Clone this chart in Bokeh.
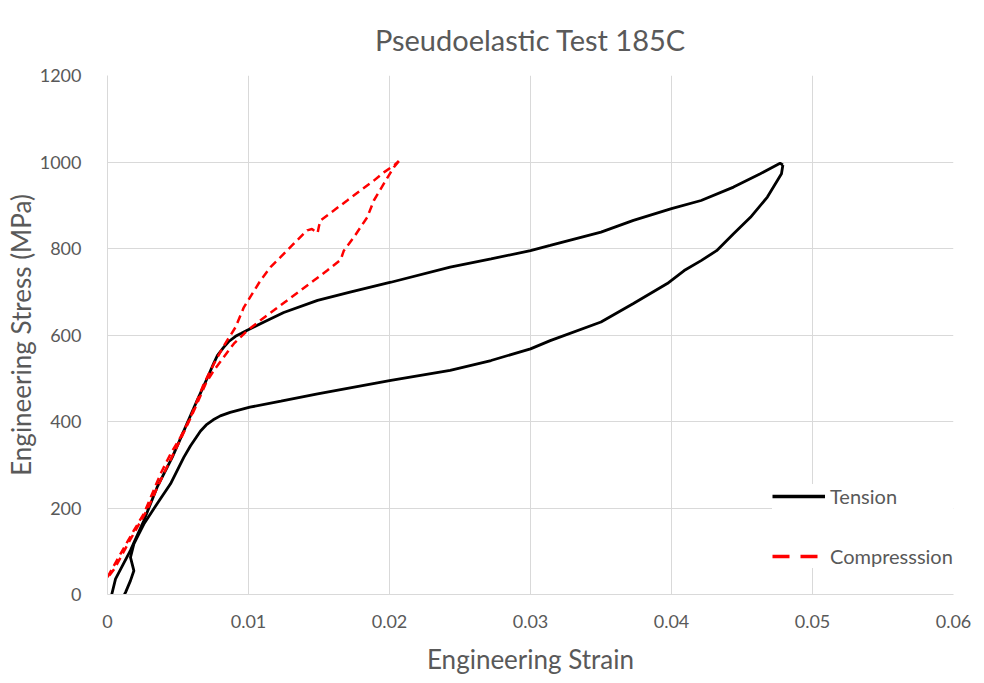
from bokeh.plotting import figure
from bokeh.models import Range1d, Legend, LegendItem, Title, FixedTicker
from bokeh.embed import file_html
from bokeh.resources import INLINE

# Tension loop (strain, MPa)
tension_load_strain = [0.0003, 0.00057, 0.00163, 0.00258, 0.00352, 0.00459, 0.00553, 0.00636, 0.00707,
                       0.00754, 0.0078, 0.00825, 0.0086, 0.00908, 0.0095, 0.00991, 0.0111, 0.0125, 0.0149,
                       0.0172, 0.0201, 0.0243, 0.0272, 0.030, 0.0314, 0.035, 0.0373, 0.040, 0.0421, 0.0444,
                       0.0463, 0.0477, 0.0479]
tension_load_stress = [0, 36, 102, 171, 248, 317, 387, 449, 500,
                       535, 553, 572, 585, 597, 604, 611, 630, 652, 680,
                       699, 722, 757, 776, 795, 807, 838, 865, 892, 911, 942,
                       973, 997, 993]
tension_unload_strain = [0.0479, 0.0478, 0.0468, 0.0456, 0.0444, 0.0432, 0.0421, 0.0409, 0.0397, 0.0373,
                         0.035, 0.0314, 0.030, 0.0272, 0.0243, 0.0201, 0.0149, 0.0123, 0.0101, 0.0087,
                         0.0080, 0.0075, 0.0070, 0.0066, 0.00589, 0.00541, 0.00447, 0.00352, 0.00258,
                         0.00187, 0.00163, 0.00187, 0.00163, 0.00128, 0.0012]
tension_unload_stress = [993, 973, 919, 872, 834, 795, 772, 749, 719, 673,
                         630, 587, 568, 541, 518, 495, 464, 447, 433, 421,
                         413, 404, 392, 378, 344, 317, 256, 210, 163,
                         117, 86, 55, 32, 5, 0]

# Compression loop (strain, MPa)
comp_load_strain = [0.0, 0.00092, 0.00187, 0.00258, 0.00376, 0.00447, 0.00518, 0.00589, 0.00683, 0.00754,
                    0.00825, 0.00908, 0.00967, 0.01026, 0.01085, 0.01156, 0.01227, 0.01321, 0.01416,
                    0.0145, 0.0149, 0.0150, 0.01511, 0.01605, 0.017, 0.01794, 0.01889, 0.0196, 0.02031, 0.02066]
comp_load_stress = [40, 94, 148, 187, 279, 325, 364, 410, 487, 533,
                    575, 618, 664, 695, 726, 757, 780, 811, 842,
                    845, 836, 852, 865, 888, 911, 934, 957, 976, 992, 1002]
comp_unload_strain = [0.02066, 0.02031, 0.0196, 0.01889, 0.01842, 0.01747, 0.01676, 0.0166, 0.0165,
                      0.01558, 0.01463, 0.01369, 0.01274, 0.0118, 0.01085, 0.00991, 0.00896, 0.00825,
                      0.00754, 0.0070, 0.0062, 0.0052, 0.0040, 0.0028, 0.0015, 0.0005, 0.0]
comp_unload_stress = [1002, 988, 950, 911, 872, 826, 795, 780, 773,
                      749, 726, 703, 680, 657, 634, 610, 580, 549,
                      518, 490, 430, 360, 280, 195, 120, 60, 38]

x_ticks = [0, 0.01, 0.02, 0.03, 0.04, 0.05, 0.06]
y_ticks = [0, 200, 400, 600, 800, 1000, 1200]

TXT = "#595959"
GRID = "#d9d9d9"
FONT = "Lato"

p = figure(width=984, height=683, output_backend="svg", toolbar_location=None,
           x_range=Range1d(0, 0.06), y_range=Range1d(0, 1200),
           min_border_left=107, min_border_right=31, min_border_top=75, min_border_bottom=89,
           title=None)
p.outline_line_color = None
p.background_fill_color = "white"
p.border_fill_color = "white"

t = Title(text="Pseudoelastic Test 185C", align="center", text_font=FONT,
          text_font_size="29px", text_font_style="normal", text_color=TXT, standoff=38)
p.add_layout(t, "above")

for ax in (p.xaxis, p.yaxis):
    ax.axis_line_color = GRID
    ax.major_tick_line_color = None
    ax.minor_tick_line_color = None
    ax.major_label_text_font = FONT
    ax.major_label_text_font_size = "18px"
    ax.major_label_text_color = TXT
    ax.axis_label_text_font = FONT
    ax.axis_label_text_font_size = "26px"
    ax.axis_label_text_font_style = "normal"
    ax.axis_label_text_color = TXT

p.xaxis.ticker = FixedTicker(ticks=x_ticks)
p.yaxis.ticker = FixedTicker(ticks=y_ticks)
p.xaxis.major_label_overrides = {0: "0"}
p.xaxis.axis_label = "Engineering Strain"
p.yaxis.axis_label = "Engineering Stress (MPa)"
p.xaxis.major_label_standoff = 14
p.yaxis.major_label_standoff = 20
p.xaxis.axis_label_standoff = 12
p.yaxis.axis_label_standoff = 0

p.xgrid.grid_line_color = GRID
p.ygrid.grid_line_color = GRID
p.xgrid.ticker = FixedTicker(ticks=x_ticks)
p.ygrid.ticker = FixedTicker(ticks=y_ticks)

BLACK = "#000000"
RED = "#ff0000"

p.line(tension_load_strain, tension_load_stress, line_color=BLACK, line_width=2.8)
p.line(tension_unload_strain, tension_unload_stress, line_color=BLACK, line_width=2.8)
p.line(comp_load_strain, comp_load_stress, line_color=RED, line_width=2.5, line_dash="8 5")
p.line(comp_unload_strain, comp_unload_stress, line_color=RED, line_width=2.5, line_dash="8 5")

# legend sample renderers (placed outside the visible range)
lt = p.line([-1, -1], [-1, -1], line_color=BLACK, line_width=3.5)
lc = p.line([-1, -1], [-1, -1], line_color=RED, line_width=3.5, line_dash="17 11")

legend = Legend(items=[LegendItem(label="Tension", renderers=[lt]),
                       LegendItem(label="Compresssion", renderers=[lc])],
                location=(665, 26), orientation="vertical",
                glyph_width=53, glyph_height=20, label_height=20, label_standoff=5,
                spacing=36, padding=15, margin=0,
                label_text_font=FONT, label_text_font_size="20px", label_text_color=TXT,
                background_fill_color="white", background_fill_alpha=1.0,
                border_line_color=None)
p.add_layout(legend, "center")

open("out.html", "w").write(file_html(p, INLINE))
